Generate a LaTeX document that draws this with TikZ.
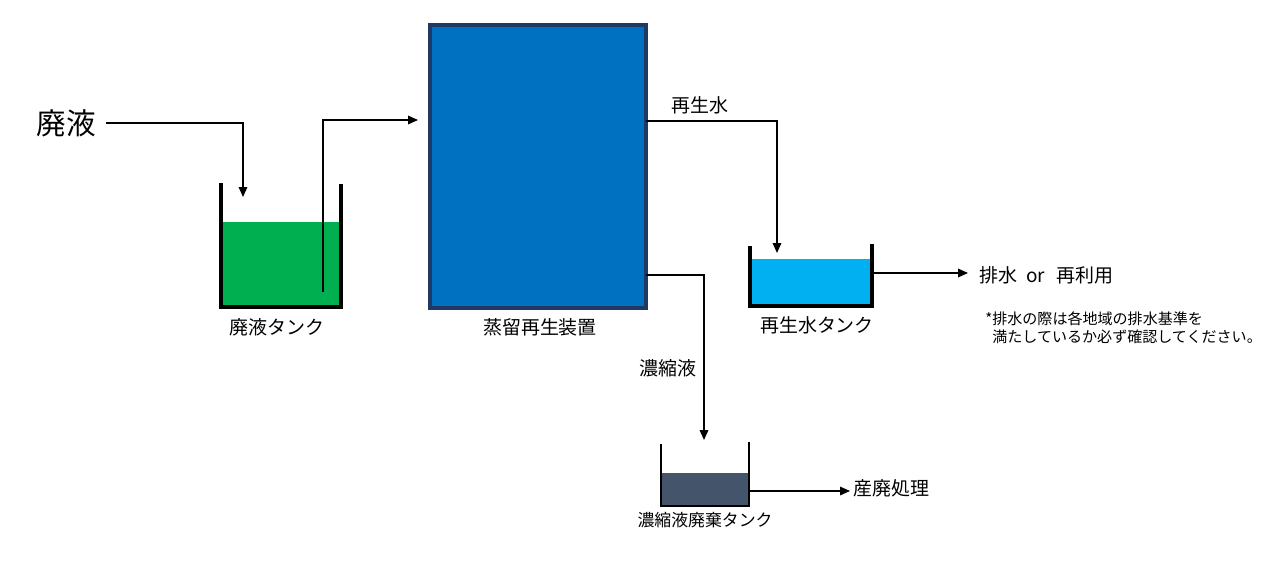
\documentclass[tikz,border=0pt]{standalone}
\usepackage{fontspec}
\newfontfamily\jp{Noto Sans CJK JP}
\usetikzlibrary{arrows.meta}
\definecolor{unitblue}{HTML}{0070C0}
\definecolor{unitedge}{HTML}{1F3864}
\definecolor{wastegreen}{HTML}{00B050}
\definecolor{waterblue}{HTML}{00B0F0}
\definecolor{slurry}{HTML}{44546A}
\begin{document}
\begin{tikzpicture}[x=0.025cm,y=-0.025cm,
    flow/.style={-{Triangle[length=7pt,width=6pt]},line width=1.1pt},
    wall/.style={line width=2.4pt},
    lbl/.style={font=\jp\fontsize{13.5}{16}\selectfont,inner sep=0pt},
    note/.style={font=\jp\fontsize{10.7}{12.8}\selectfont,inner sep=0pt,align=left}]
                \useasboundingbox (0,0) rectangle (1280,565);

                % still
                \node[draw=unitedge,fill=unitblue,line width=2.4pt,minimum width=5.4cm,minimum height=7.075cm,inner sep=0pt] (unit) at (538,166.5) {};
                \node[lbl] (unitlbl) at (540,327) {蒸留再生装置};

                % waste tank
                \fill[wastegreen] (222,222) rectangle (341,307);
                \draw[wall] (221,183) -- (221,307) -- (341,307) -- (341,184);
                \node[lbl] (feedlbl) at (277,327) {廃液タンク};
                \node[font=\jp\fontsize{21}{24}\selectfont,inner ysep=0pt,inner xsep=7.5pt] (feed) at (66,123) {廃液};
                \coordinate (feedin) at (243,197);
                \coordinate (pipebot) at (323,292);
                \coordinate (unitin) at (418,120);

                \draw[flow] (feed.east) -| (feedin);
                \draw[flow] (pipebot) |- (unitin);

                % regenerated water
                \coordinate (topout) at (646,121);
                \coordinate (regenin) at (777,253);
                \node[lbl] (regenlbl) at (700,105) {再生水};
                \fill[waterblue] (751,259) rectangle (872,304);
                \draw[wall] (750,246) -- (750,306) -- (872,306) -- (872,244);
                \node[lbl] (regentank) at (817,325) {再生水タンク};
                \coordinate (regenout) at (872,273);
                \node[lbl,anchor=west,inner xsep=8pt] (reuse) at (968,275) {排水\hspace{0.45em}or\hspace{0.6em}再利用};
                \node[note,anchor=north west] (caution) at (985,311) {*排水の際は各地域の排水基準を\\\phantom{*}満たしているか必ず確認してください。};

                \draw[flow] (topout) -| (regenin);
                \draw[flow] (regenout) -- (regenout -| reuse.west);

                % concentrate
                \coordinate (lowout) at (646,275);
                \coordinate (slurryin) at (704,440);
                \node[lbl] (slurrylbl) at (668,368) {濃縮液};
                \fill[slurry] (662,473) rectangle (749,505);
                \draw[wall,line width=1.7pt] (661,444) -- (661,506) -- (749,506) -- (749,442);
                \node[lbl,font=\jp\fontsize{12}{14}\selectfont] (slurrytank) at (705,520) {濃縮液廃棄タンク};
                \coordinate (slurryout) at (749,491);
                \node[lbl,anchor=west,inner xsep=2pt] (disposal) at (850,488) {産廃処理};

                \draw[flow] (lowout) -| (slurryin);
                \draw[flow] (slurryout) -- (slurryout -| disposal.west);
\end{tikzpicture}
\end{document}
